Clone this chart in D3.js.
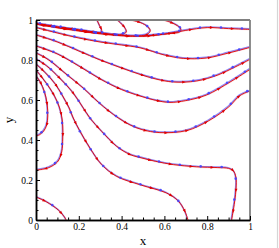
<!DOCTYPE html>
<html>
<head>
<meta charset="utf-8">
<script src="https://cdn.jsdelivr.net/npm/d3@7"></script>
<style>
body { margin: 0; background: #fff; }
svg { display: block; }
</style>
</head>
<body>
<svg id="chart" width="279" height="248"></svg>
<script>
// streamlines, each point is [x, y] in data units
var cornerLine = [[0, 0.115], [0.05, 0.09], [0.104, 0.05], [0.136, 0.01], [0.14, 0]];
var lineA = [[0, 0.72], [0.02, 0.69], [0.04, 0.64], [0.052, 0.58], [0.055, 0.52], [0.05, 0.475], [0.036, 0.445], [0.016, 0.426], [0, 0.42]];
var lineB = [[0, 0.75], [0.03, 0.71], [0.07, 0.65], [0.1, 0.59], [0.118, 0.53], [0.125, 0.47], [0.125, 0.41], [0.12, 0.34], [0.1, 0.29], [0.06, 0.262], [0.02, 0.252], [0, 0.25]];
var lineC = [[0, 0.78], [0.04, 0.74], [0.09, 0.68], [0.13, 0.61], [0.155, 0.56], [0.174, 0.51], [0.206, 0.443], [0.252, 0.36], [0.307, 0.277], [0.377, 0.218], [0.49, 0.175], [0.61, 0.135], [0.665, 0.095], [0.695, 0.045], [0.71, 0]];
var lineD = [[0, 0.805], [0.05, 0.77], [0.11, 0.71], [0.17, 0.64], [0.215, 0.57], [0.252, 0.51], [0.307, 0.443], [0.377, 0.368], [0.44, 0.327], [0.495, 0.31], [0.56, 0.293], [0.642, 0.277], [0.75, 0.266], [0.85, 0.262], [0.9, 0.258], [0.922, 0.246], [0.934, 0.215], [0.935, 0.16], [0.928, 0.09], [0.914, 0]];
var lineE = [[0, 0.835], [0.06, 0.8], [0.14, 0.73], [0.22, 0.66], [0.29, 0.59], [0.34, 0.545], [0.385, 0.51], [0.44, 0.475], [0.495, 0.452], [0.579, 0.437], [0.704, 0.447], [0.805, 0.495], [0.9, 0.565], [0.953, 0.622], [1, 0.645]];
var lineF = [[0, 0.87], [0.1, 0.83], [0.2, 0.77], [0.3, 0.705], [0.4, 0.652], [0.486, 0.62], [0.56, 0.598], [0.626, 0.588], [0.7, 0.597], [0.797, 0.625], [0.907, 0.69], [1, 0.753]];
var lineG = [[0, 0.925], [0.1, 0.89], [0.2, 0.845], [0.3, 0.8], [0.4, 0.76], [0.486, 0.728], [0.56, 0.705], [0.642, 0.69], [0.75, 0.695], [0.85, 0.725], [0.93, 0.765], [1, 0.803]];
var lineH = [[0, 0.962], [0.1, 0.935], [0.2, 0.91], [0.3, 0.89], [0.4, 0.875], [0.486, 0.861], [0.6, 0.825], [0.688, 0.808], [0.797, 0.81], [0.9, 0.835], [1, 0.863]];
var topLine = [[0, 0.98], [0.1, 0.961], [0.2, 0.945], [0.3, 0.931], [0.4, 0.921], [0.5, 0.918], [0.6, 0.929], [0.7, 0.948], [0.8, 0.962], [0.9, 0.957], [1, 0.953]];
var loop1 = [[0.285, 1.0], [0.297, 0.972], [0.307, 0.948], [0.3, 0.934], [0.2, 0.949], [0.1, 0.964], [0, 0.982]];
var loop2 = [[0.38, 1.0], [0.4, 0.98], [0.417, 0.958], [0.422, 0.94], [0.4, 0.927], [0.3, 0.936], [0.2, 0.951], [0.1, 0.966], [0, 0.984]];
var loop3 = [[0.44, 1.0], [0.48, 0.99], [0.515, 0.972], [0.534, 0.947], [0.52, 0.928], [0.48, 0.921], [0.4, 0.923], [0.3, 0.933], [0.2, 0.947], [0.1, 0.962], [0, 0.979]];
var loop4 = [[0.595, 1.0], [0.63, 0.988], [0.66, 0.972], [0.677, 0.955], [0.672, 0.94], [0.64, 0.934], [0.56, 0.925], [0.5, 0.92]];

var streamlines = [cornerLine, lineA, lineB, lineC, lineD, lineE, lineF, lineG, lineH, topLine, loop1, loop2, loop3, loop4];

var majorTicks = [0, 0.2, 0.4, 0.6, 0.8, 1];
var minorTicks = [0.05, 0.1, 0.15, 0.25, 0.3, 0.35, 0.45, 0.5, 0.55, 0.65, 0.7, 0.75, 0.85, 0.9, 0.95];

var svg = d3.select('#chart');
var xScale = d3.scaleLinear().domain([0, 1]).range([36, 250]);
var yScale = d3.scaleLinear().domain([0, 1]).range([220, 20]);

// light frame line on the right edge of the picture
svg.append('line')
    .attr('x1', 277.5).attr('x2', 277.5)
    .attr('y1', 0).attr('y2', 248)
    .attr('stroke', '#d6d6d6')
    .attr('stroke-width', 1.2);

svg.append('clipPath').attr('id', 'plotClip')
    .append('rect')
    .attr('x', 36).attr('y', 20)
    .attr('width', 214).attr('height', 200);

var line = d3.line()
    .x(function(d){ return xScale(d[0]); })
    .y(function(d){ return yScale(d[1]); })
    .curve(d3.curveCatmullRom.alpha(0.5));

var plot = svg.append('g').attr('clip-path', 'url(#plotClip)');

// blue solution, slightly offset under the red one
var blueG = plot.append('g').attr('transform', 'translate(-0.5,-0.7)');
blueG.selectAll('path')
    .data(streamlines)
    .enter().append('path')
    .attr('d', line)
    .attr('fill', 'none')
    .attr('stroke', '#6a6aff')
    .attr('stroke-opacity', 0.8)
    .attr('stroke-width', 1.4);

var halo = plot.append('g');
halo.selectAll('path')
    .data(streamlines)
    .enter().append('path')
    .attr('d', line)
    .attr('fill', 'none')
    .attr('stroke', '#f08080')
    .attr('stroke-opacity', 0.2)
    .attr('stroke-width', 2.2);

var redG = plot.append('g');
var redPaths = redG.selectAll('path')
    .data(streamlines)
    .enter().append('path')
    .attr('d', line)
    .attr('fill', 'none')
    .attr('stroke', '#e00000')
    .attr('stroke-width', 0.9);

// markers along each streamline
var markG = plot.append('g');
redPaths.each(function(){
    var node = this;
    var len = node.getTotalLength();
    for (var s = 9; s < len - 2; s += 21) {
        var p = node.getPointAtLength(s);
        var q = node.getPointAtLength(Math.min(s + 1, len));
        var ang = Math.atan2(q.y - p.y, q.x - p.x) * 180 / Math.PI;
        markG.append('path')
            .attr('d', 'M2,0L-1.6,-1.4L-1.6,1.4Z')
            .attr('fill', '#e00000')
            .attr('transform', 'translate(' + p.x + ',' + p.y + ') rotate(' + ang + ')');
        if (s + 10 < len) {
            var b = node.getPointAtLength(s + 10);
            markG.append('circle')
                .attr('cx', b.x - 0.5).attr('cy', b.y - 0.7)
                .attr('r', 1.3)
                .attr('fill', '#4040ff')
                .attr('fill-opacity', 0.85);
        }
    }
});

// frame: top and right in gray
svg.append('line')
    .attr('x1', xScale(0)).attr('x2', xScale(1))
    .attr('y1', yScale(1)).attr('y2', yScale(1))
    .attr('stroke', '#808080').attr('stroke-width', 1.8);
svg.append('line')
    .attr('x1', xScale(1)).attr('x2', xScale(1))
    .attr('y1', yScale(1)).attr('y2', yScale(0))
    .attr('stroke', '#808080').attr('stroke-width', 1.8);

var fmt = d3.format('');

var xAxis = svg.append('g')
    .attr('transform', 'translate(0,' + yScale(0) + ')')
    .call(d3.axisBottom(xScale).tickValues(majorTicks).tickSizeInner(-4).tickSizeOuter(0).tickPadding(3).tickFormat(fmt));
var xMinor = svg.append('g')
    .attr('transform', 'translate(0,' + yScale(0) + ')')
    .call(d3.axisBottom(xScale).tickValues(minorTicks).tickSizeInner(-2.5).tickSizeOuter(0).tickFormat(''));
var yAxis = svg.append('g')
    .attr('transform', 'translate(' + xScale(0) + ',0)')
    .call(d3.axisLeft(yScale).tickValues(majorTicks).tickSizeInner(-4).tickSizeOuter(0).tickPadding(3).tickFormat(fmt));
var yMinor = svg.append('g')
    .attr('transform', 'translate(' + xScale(0) + ',0)')
    .call(d3.axisLeft(yScale).tickValues(minorTicks).tickSizeInner(-2.5).tickSizeOuter(0).tickFormat(''));

[xAxis, xMinor, yAxis, yMinor].forEach(function(g){
    g.select('.domain').attr('stroke', '#000').attr('stroke-width', 1.5);
    g.selectAll('.tick line').attr('stroke', '#000').attr('stroke-width', 1);
    g.selectAll('text')
        .attr('font-family', 'Liberation Serif, Times New Roman, serif')
        .attr('font-size', 9.5)
        .attr('fill', '#000');
});

svg.append('text')
    .attr('x', 143).attr('y', 245)
    .attr('text-anchor', 'middle')
    .attr('font-family', 'Liberation Serif, Times New Roman, serif')
    .attr('font-size', 13)
    .text('x');

svg.append('text')
    .attr('transform', 'translate(13,120) rotate(-90)')
    .attr('text-anchor', 'middle')
    .attr('font-family', 'Liberation Serif, Times New Roman, serif')
    .attr('font-size', 13)
    .text('y');
</script>
</body>
</html>
